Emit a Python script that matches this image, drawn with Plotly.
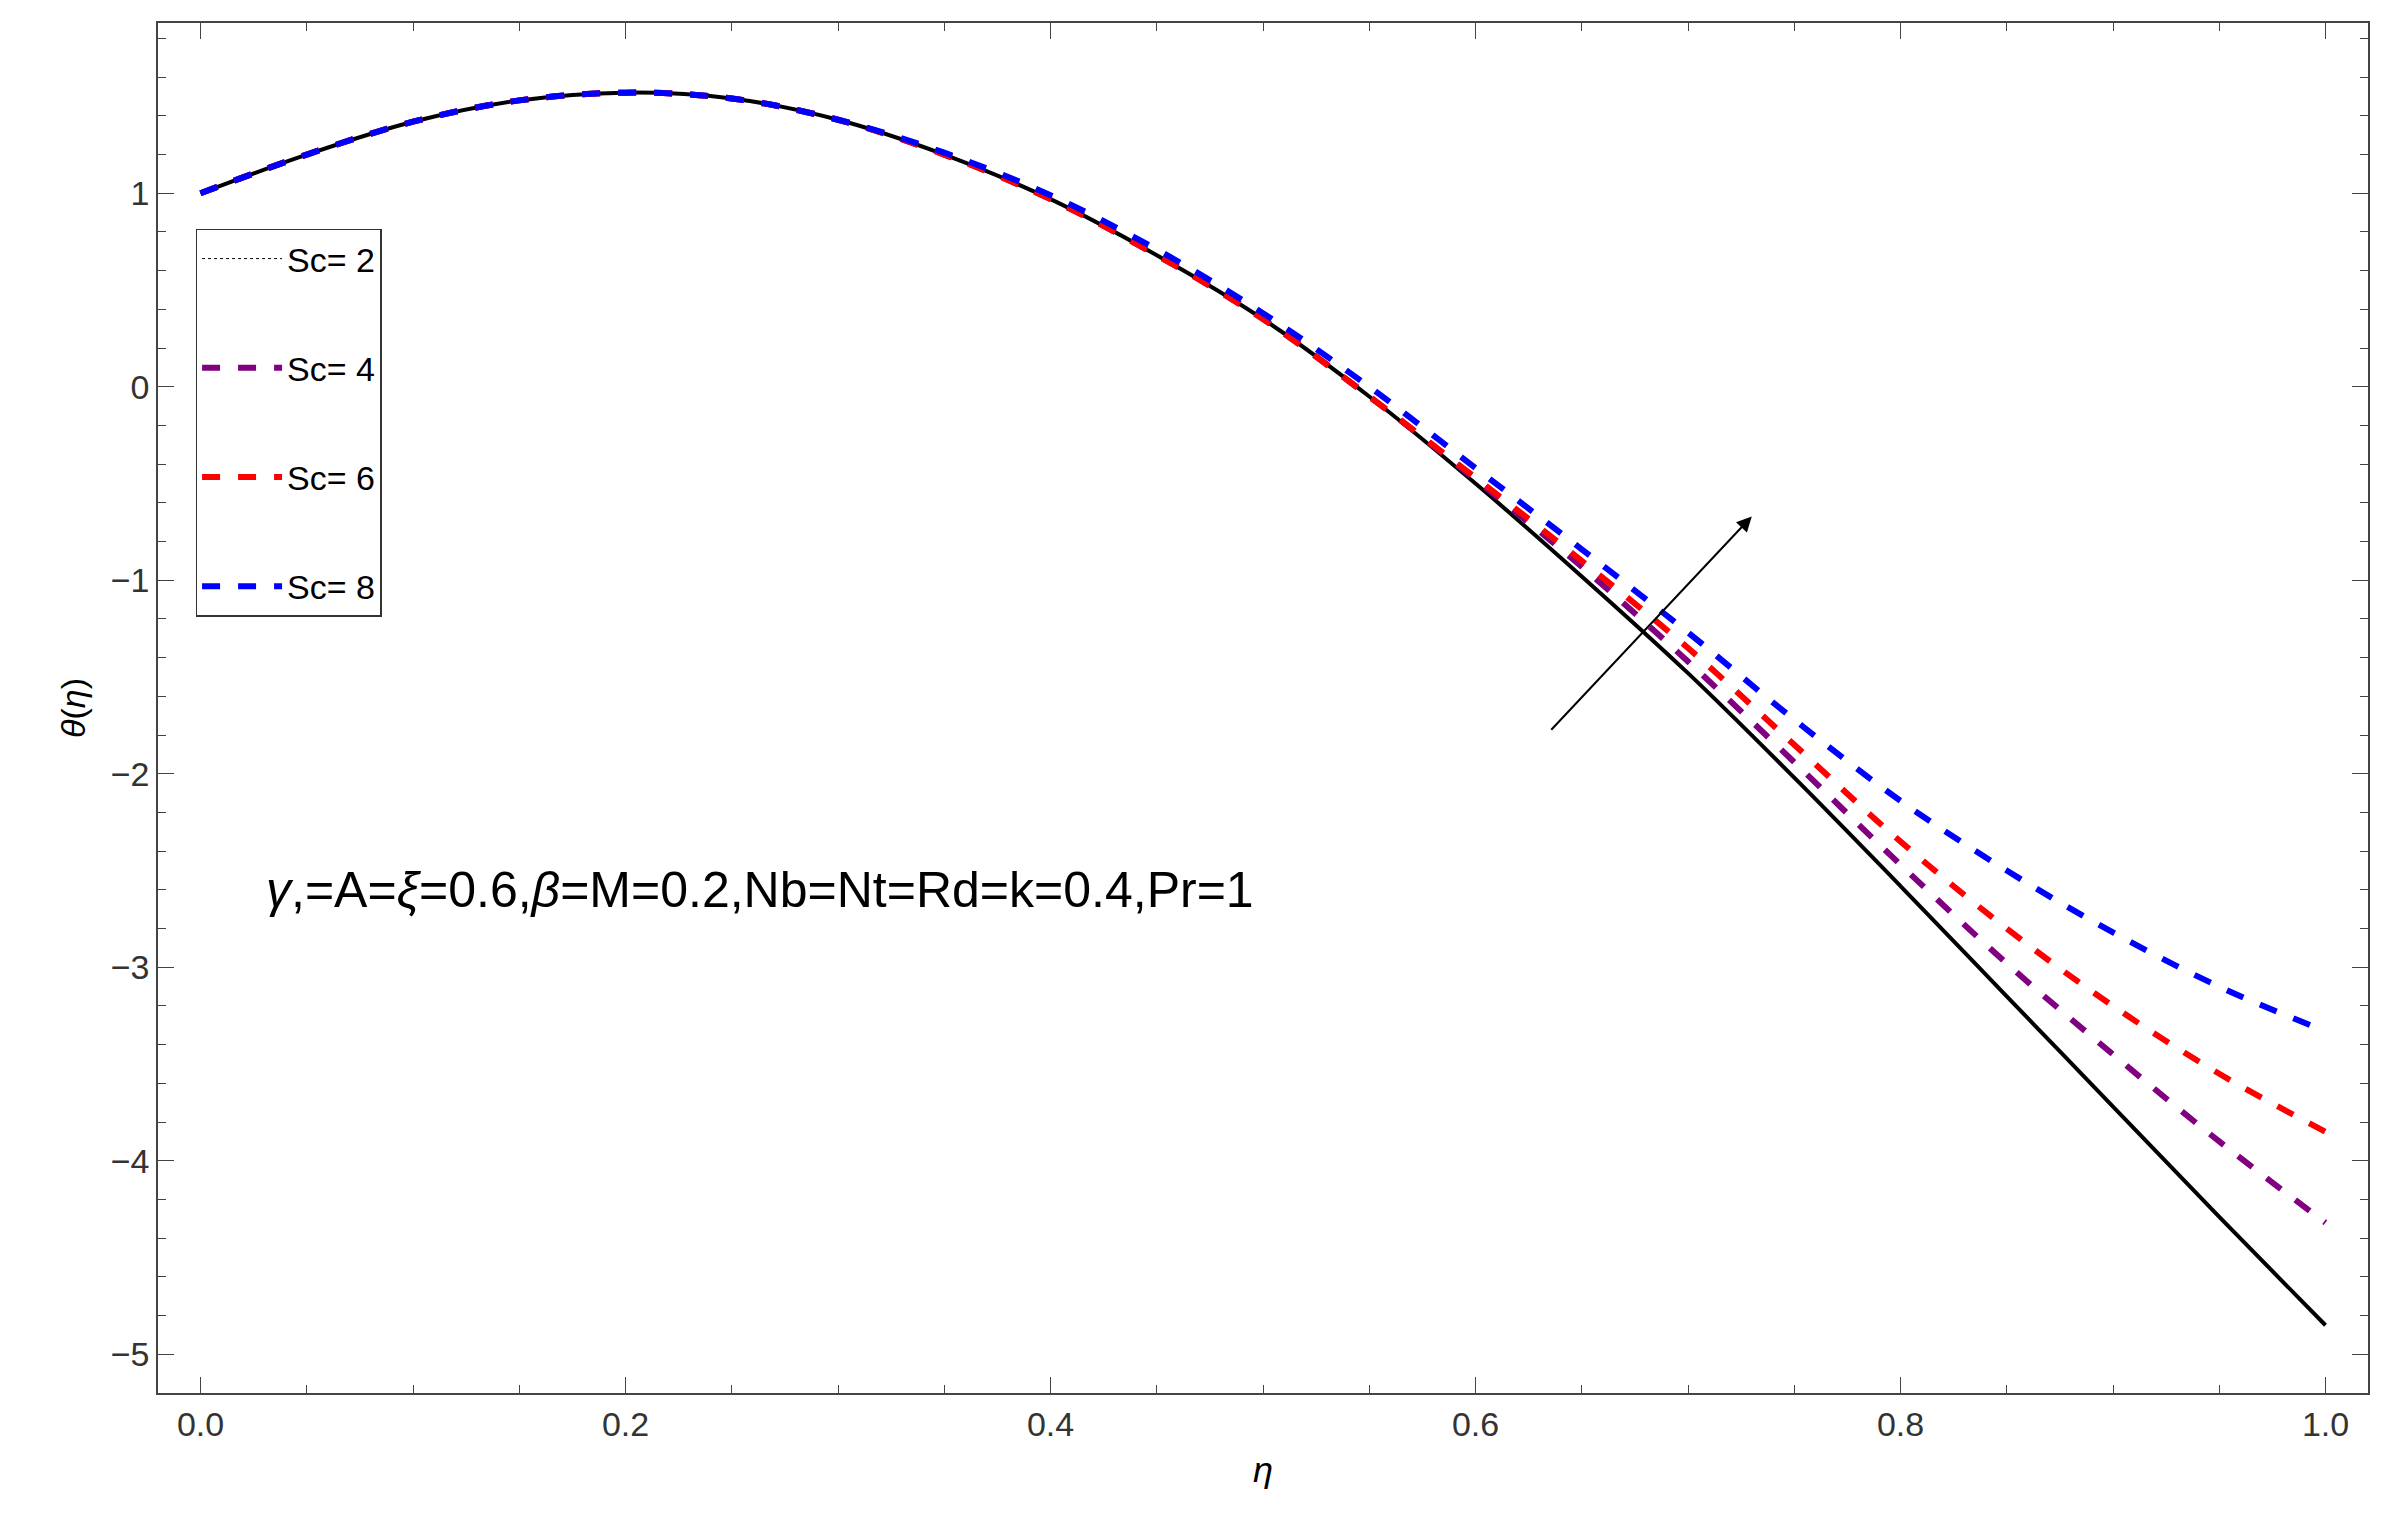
import plotly.graph_objects as go

eta = [0.0, 0.05, 0.1, 0.15, 0.2, 0.25, 0.3, 0.35, 0.4, 0.45, 0.5, 0.55,
       0.6, 0.65, 0.7, 0.75, 0.8, 0.85, 0.9, 0.95, 1.0]
common = [1.0, 1.2, 1.37, 1.48, 1.52, 1.49, 1.38, 1.2, 0.97, 0.68, 0.35, -0.05]
theta_sc2 = common + [-0.5, -0.98, -1.48, -2.02, -2.58, -3.15, -3.72, -4.29, -4.85]
theta_sc4 = common + [-0.48, -0.93, -1.42, -1.94, -2.47, -2.98, -3.45, -3.9, -4.32]
theta_sc6 = common + [-0.47, -0.9, -1.35, -1.85, -2.35, -2.8, -3.2, -3.55, -3.85]
theta_sc8 = [1.0, 1.2, 1.37, 1.48, 1.52, 1.49, 1.38, 1.21, 0.99, 0.71, 0.38, 0.0,
             -0.42, -0.84, -1.27, -1.72, -2.14, -2.5, -2.82, -3.1, -3.33]

fig = go.Figure()
fig.add_trace(go.Scatter(x=eta, y=theta_sc2, mode="lines", line=dict(color="black", width=4, shape="spline"),
                         showlegend=False))
fig.add_trace(go.Scatter(x=[None], y=[None], mode="lines", name="Sc= 2", legendgroup="a",
                         line=dict(color="black", width=1, dash="dot")))
for name, y, col in [("Sc= 4", theta_sc4, "purple"), ("Sc= 6", theta_sc6, "red"), ("Sc= 8", theta_sc8, "blue")]:
    fig.add_trace(go.Scatter(x=eta, y=y, mode="lines", name=name, legendgroup=name,
                             line=dict(color=col, width=6, dash="dash", shape="spline")))

fig.add_annotation(x=0.73, y=-0.67, ax=0.635, ay=-1.78, xref="x", yref="y", axref="x", ayref="y",
                   showarrow=True, arrowhead=2, arrowsize=1.5, arrowwidth=2, arrowcolor="black", text="")
fig.add_annotation(x=0.03, y=-2.6, xref="x", yref="y", xanchor="left", showarrow=False,
                   text="<i>γ</i>,=A=<i>ξ</i>=0.6,<i>β</i>=M=0.2,Nb=Nt=Rd=k=0.4,Pr=1",
                   font=dict(size=50, color="black"))

axis = dict(showline=True, linecolor="#444", linewidth=1.5, mirror="ticks", ticks="inside",
            ticklen=16, tickcolor="#444", showgrid=False, zeroline=False,
            minor=dict(ticks="inside", ticklen=8, tickcolor="#444"),
            tickfont=dict(size=34, color="#333"))
fig.update_xaxes(axis, range=[-0.02, 1.02], tickvals=[0, 0.2, 0.4, 0.6, 0.8, 1.0],
                 ticktext=["0.0", "0.2", "0.4", "0.6", "0.8", "1.0"],
                 minor_dtick=0.05, title=dict(text="<i>η</i>", font=dict(size=36)))
fig.update_yaxes(axis, range=[-5.2, 1.88], dtick=1, minor_dtick=0.2,
                 title=dict(text="<i>θ</i>(<i>η</i>)", font=dict(size=34)))
fig.update_layout(width=2382, height=1520, plot_bgcolor="white", paper_bgcolor="white",
                  font=dict(family="Liberation Sans", color="black"),
                  margin=dict(l=150, r=22, t=15, b=135),
                  legend=dict(x=0.017, y=0.85, xanchor="left", yanchor="top", bordercolor="#333",
                              borderwidth=1.5, bgcolor="white", font=dict(size=34),
                              tracegroupgap=62, itemwidth=80),
                  )
fig.write_html("out.html")
